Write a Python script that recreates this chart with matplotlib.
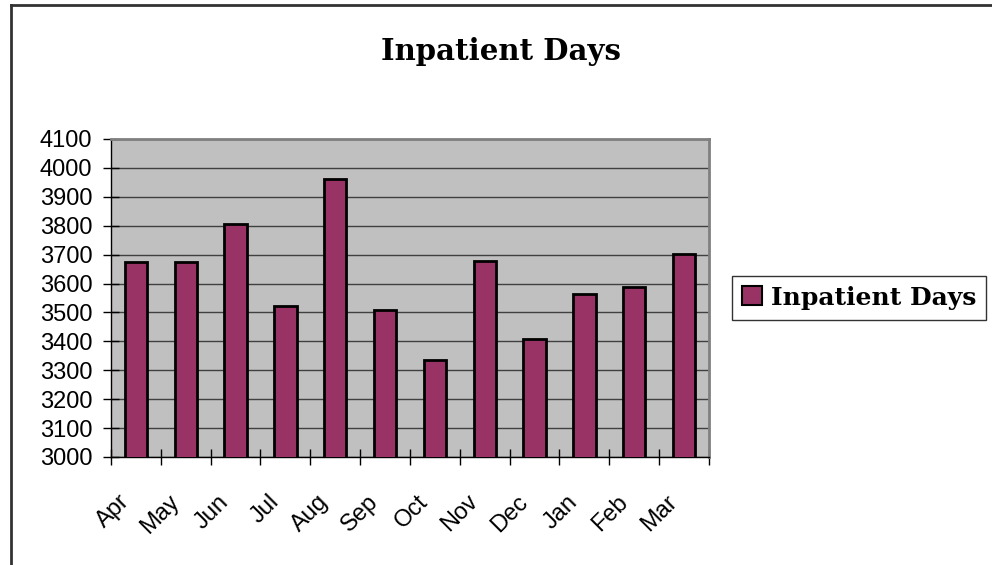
import matplotlib.pyplot as plt
import matplotlib.ticker as mticker
import matplotlib.transforms as mtransforms
from matplotlib.lines import Line2D
from matplotlib.patches import Patch
import numpy as np

# Data
months = ['Apr', 'May', 'Jun', 'Jul', 'Aug', 'Sep', 'Oct', 'Nov', 'Dec', 'Jan', 'Feb', 'Mar']
inpatient_days = [3674, 3674, 3807, 3522, 3963, 3508, 3336, 3679, 3408, 3564, 3589, 3701]
series_name = 'Inpatient Days'

bar_color = '#993366'
plot_bg = '#C0C0C0'

fig = plt.figure(figsize=(9.92, 5.65), dpi=100)
ax = fig.add_axes([0.1119, 0.1912, 0.6028, 0.5628])

x = np.arange(len(months))
ax.bar(x, inpatient_days, width=0.45, bottom=0, color=bar_color,
       edgecolor='black', linewidth=2, zorder=3)

ax.set_facecolor(plot_bg)
ax.set_xlim(-0.5, len(months) - 0.5)
ax.set_ylim(3000, 4100)
ax.yaxis.set_major_locator(mticker.MultipleLocator(100))
ax.grid(axis='y', color='#404040', linewidth=1, zorder=1)

# spines: black axes, gray plot-area border
for side in ['top', 'right']:
    ax.spines[side].set_color('#808080')
    ax.spines[side].set_linewidth(2)
for side in ['left', 'bottom']:
    ax.spines[side].set_color('black')
    ax.spines[side].set_linewidth(1)

# ticks: labels at centers, tick marks at category boundaries
ax.set_xticks(x)
ax.set_xticklabels(months, rotation=45, ha='right', va='center',
                   rotation_mode='anchor', fontsize=17, family='Liberation Sans')
ax.set_xticks(np.arange(-0.5, len(months)), minor=True)
ax.tick_params(axis='x', which='major', length=0, pad=30)
ax.tick_params(axis='x', which='minor', direction='inout', length=12, width=1)
ax.tick_params(axis='y', direction='inout', length=11, width=1, pad=8,
               labelsize=17)
for lab in ax.get_yticklabels():
    lab.set_family('Liberation Sans')

shift = mtransforms.ScaledTranslation(-10 / 100, 0, fig.dpi_scale_trans)
for lab in ax.get_xticklabels():
    lab.set_transform(lab.get_transform() + shift)

# title
fig.text(0.505, 1 - 60 / 565, series_name, ha='center', va='baseline',
         fontsize=21, fontweight='bold', family='DejaVu Serif')

# legend
handle = Patch(facecolor=bar_color, edgecolor='black', linewidth=1.5)
leg = fig.legend([handle], [series_name], loc='center left',
                 bbox_to_anchor=(0.738, 1 - 297.5 / 565), frameon=True, fancybox=False,
                 prop={'family': 'DejaVu Serif', 'weight': 'bold', 'size': 18},
                 handlelength=0.8, handleheight=0.8, handletextpad=0.35,
                 borderpad=0.4, borderaxespad=0)
leg.get_frame().set_edgecolor('black')
leg.get_frame().set_linewidth(1)

# outer chart border (left and top edges visible)
fig.add_artist(Line2D([11 / 992, 11 / 992], [0, 1 - 5 / 565], color='#333333',
                      linewidth=2, transform=fig.transFigure))
fig.add_artist(Line2D([11 / 992, 1], [1 - 5 / 565, 1 - 5 / 565], color='#333333',
                      linewidth=2, transform=fig.transFigure))

plt.savefig('out.png', dpi=100)
